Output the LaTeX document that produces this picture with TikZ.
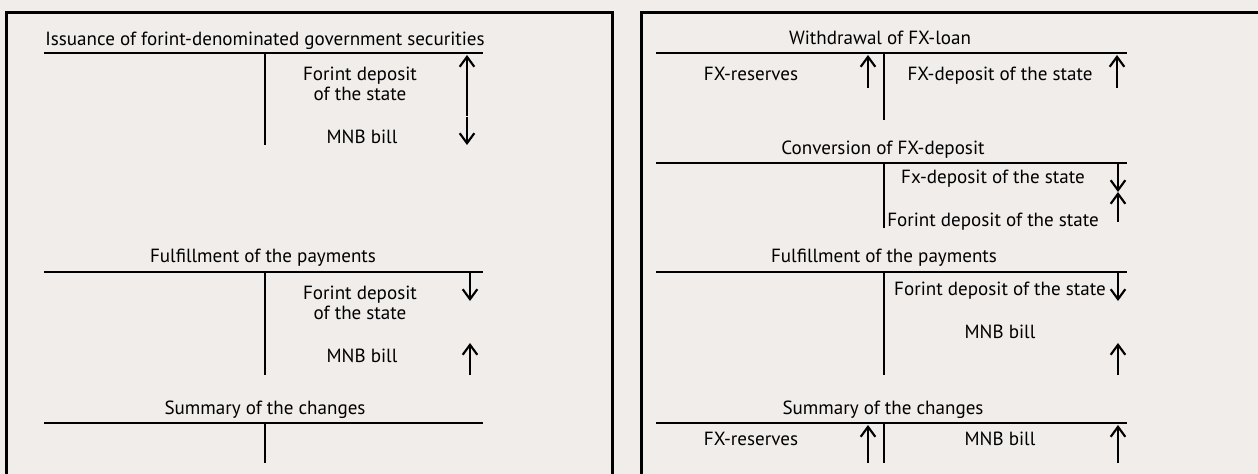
\documentclass[tikz,border=0pt]{standalone}
\usepackage{fontspec}
\setmainfont{PT Sans}
\usetikzlibrary{arrows.meta}
\definecolor{paper}{RGB}{240,237,234}
\begin{document}
\begin{tikzpicture}[x=0.75pt,y=-0.75pt,
  lbl/.style={anchor=base,inner sep=0pt,font=\fontsize{14.3}{15}\selectfont},
  tline/.style={line width=1.5pt},
  frame/.style={line width=2.25pt},
  mv/.style={line width=1.6pt,-{Straight Barb[length=7.5pt,width=11pt,line width=1.6pt]}}]
\fill[paper] (0,0) rectangle (1258,474);
\useasboundingbox (0,0) rectangle (1258,474);
\draw[frame] (6,480) -- (6,12.5) -- (612,12.5) -- (612,480);
\draw[frame] (641.5,480) -- (641.5,12.5) -- (1265,12.5);
\draw[tline] (44,53) -- (483,53) (265,53) -- (265,145);
\draw[tline] (44,272) -- (483,272) (265,272) -- (265,375);
\draw[tline] (44,423) -- (483,423) (265,423) -- (265,463);
\draw[tline] (656,53) -- (1127,53) (884,53) -- (884,120);
\draw[tline] (656,163) -- (1127,163) (884,163) -- (884,228);
\draw[tline] (656,272) -- (1127,272) (884,272) -- (884,375);
\draw[tline] (656,423) -- (1127,423) (884,423) -- (884,463);
\node[lbl] (iss) at (265,46) {Issuance of forint-denominated government securities};
\node[lbl,align=center] (fdepa) at (360,101) {Forint deposit\\of the state};
\node[lbl] (mnba) at (362,144) {MNB bill};
\node[lbl] (fula) at (263,263) {Fulfillment of the payments};
\node[lbl,align=center] (fdepb) at (360,320) {Forint deposit\\of the state};
\node[lbl] (mnbb) at (362,363) {MNB bill};
\node[lbl] (suma) at (265,414) {Summary of the changes};
\node[lbl] (wdr) at (880,45) {Withdrawal of FX-loan};
\node[lbl] (fxresa) at (751,81) {FX-reserves};
\node[lbl] (fxdepa) at (1000,81) {FX-deposit of the state};
\node[lbl] (conv) at (883,155) {Conversion of FX-deposit};
\node[lbl] (fxdepb) at (993,184) {Fx-deposit of the state};
\node[lbl,anchor=base west] (fdepc) at (887,227) {Forint deposit of the state};
\node[lbl] (fulb) at (884,263) {Fulfillment of the payments};
\node[lbl] (fdepd) at (1000,296) {Forint deposit of the state};
\node[lbl] (mnbc) at (1000,339) {MNB bill};
\node[lbl] (sumb) at (883,414) {Summary of the changes};
\node[lbl] (fxresb) at (751,445) {FX-reserves};
\node[lbl] (mnbd) at (1000,445) {MNB bill};
\draw[mv] (467,116) -- (467,55);
\draw[mv] (467,117) -- (467,145);
\draw[mv] (470,273) -- (470,301);
\draw[mv] (470,375) -- (470,343);
\draw[mv] (868,88) -- (868,55);
\draw[mv] (1117,88) -- (1117,55);
\draw[mv] (1118,163) -- (1118,192);
\draw[mv] (1118,222) -- (1118,192);
\draw[mv] (1118,273) -- (1118,301);
\draw[mv] (1118,375) -- (1118,343);
\draw[mv] (868,463) -- (868,425);
\draw[mv] (1118,463) -- (1118,425);
\end{tikzpicture}
\end{document}
